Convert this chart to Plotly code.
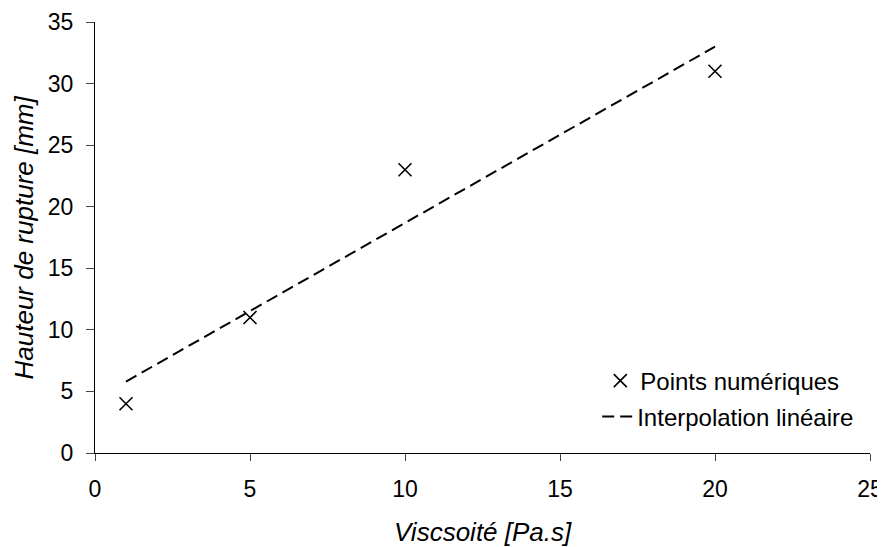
import plotly.graph_objects as go

visc = [1, 5, 10, 20]
hauteur = [4, 11, 23, 31]
fit_x = [1, 20]
fit_y = [5.8, 33.0]
x_ticks = [0, 5, 10, 15, 20, 25]
y_ticks = [0, 5, 10, 15, 20, 25, 30, 35]

font = "Liberation Sans, Arial, sans-serif"

fig = go.Figure()
fig.add_trace(go.Scatter(
    x=visc, y=hauteur, mode="markers", name="Points numériques",
    marker=dict(symbol="x-thin", size=13, line=dict(color="black", width=1.6), color="black"),
    legend="legend",
))
fig.add_trace(go.Scatter(
    x=fit_x, y=fit_y, mode="lines", name="Interpolation linéaire",
    line=dict(color="black", width=2, dash="12px,6px"),
    legend="legend2",
))

# page body has an 8px default margin, so the figure is shrunk by 8px
fig.update_layout(
    width=877, height=539,
    margin=dict(l=87, r=15, t=14, b=94),
    paper_bgcolor="white", plot_bgcolor="white",
    font=dict(family=font, size=23, color="black"),
    showlegend=True,
    legend=dict(x=0.652, xanchor="left", y=0.167, yanchor="middle",
                font=dict(size=24), bgcolor="rgba(0,0,0,0)", itemwidth=30),
    legend2=dict(x=0.648, xanchor="left", y=0.084, yanchor="middle",
                 font=dict(size=24), bgcolor="rgba(0,0,0,0)", itemwidth=30),
    xaxis=dict(range=[0, 25], tickvals=x_ticks, showgrid=False, zeroline=False,
               showline=True, linecolor="black", linewidth=1, automargin=False,
               ticks="outside", ticklen=7, tickcolor="#444", ticklabelstandoff=8,
               tickfont=dict(size=23)),
    yaxis=dict(range=[0, 35], tickvals=y_ticks, showgrid=False, zeroline=False,
               showline=True, linecolor="black", linewidth=1, automargin=False,
               ticks="outside", ticklen=8, tickcolor="#444", ticklabelstandoff=8,
               tickfont=dict(size=23)),
    annotations=[
        dict(text="<i>Viscsoité [Pa.s]</i>", xref="paper", yref="paper", x=0.5, y=0,
             xanchor="center", yanchor="middle", yshift=-79, showarrow=False,
             font=dict(size=26)),
        dict(text="<i>Hauteur de rupture [mm]</i>", xref="paper", yref="paper", x=0, y=0.5,
             xanchor="center", yanchor="middle", xshift=-72, textangle=-90, showarrow=False,
             font=dict(size=26)),
    ],
)

fig.write_html("out.html")
